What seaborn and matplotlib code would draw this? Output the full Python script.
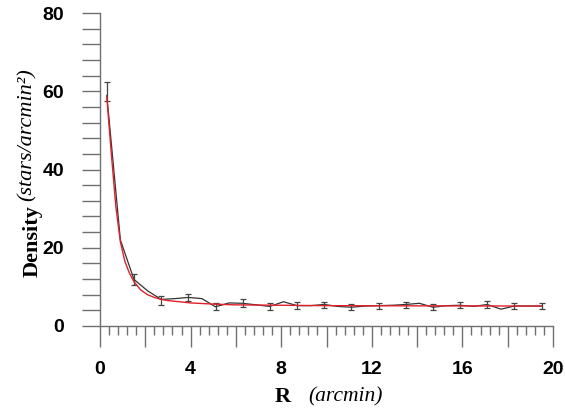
import numpy as np
import pandas as pd
import matplotlib
matplotlib.use("Agg")
import matplotlib.pyplot as plt
from matplotlib.ticker import MultipleLocator
import seaborn as sns

# observed radial density profile
r_obs = [0.3, 0.9, 1.5, 2.1, 2.7, 3.3, 3.9, 4.5, 5.1, 5.7, 6.3, 6.9, 7.5, 8.1,
         8.7, 9.3, 9.9, 10.5, 11.1, 11.7, 12.3, 12.9, 13.5, 14.1, 14.7, 15.3,
         15.9, 16.5, 17.1, 17.7, 18.3, 18.9, 19.5]
dens_obs = [59.0, 22.0, 11.9, 9.0, 6.8, 7.0, 7.3, 7.0, 4.9, 5.9, 5.8, 5.4, 5.0,
            6.2, 5.2, 5.2, 5.5, 5.0, 4.8, 5.1, 5.2, 5.3, 5.5, 5.8, 4.8, 5.2,
            5.3, 5.0, 5.5, 4.3, 5.1, 5.1, 5.1]

# points with error bars
r_err = [0.3, 1.5, 2.7, 3.9, 5.1, 6.3, 7.5, 8.7, 9.9, 11.1, 12.3, 13.5, 14.7,
         15.9, 17.1, 18.3, 19.5]
dens_err_c = [60.0, 12.0, 6.5, 7.3, 4.9, 5.8, 4.9, 5.2, 5.4, 4.8, 5.2, 5.4, 4.8,
              5.3, 5.5, 5.1, 5.1]
dens_err = [2.4, 1.4, 1.1, 1.0, 0.9, 1.0, 0.9, 0.9, 0.8, 0.8, 0.8, 0.8, 0.8,
            0.8, 0.8, 0.8, 0.8]

# fitted profile (red)
r_fit = [0.3, 0.5, 0.7, 0.9, 1.1, 1.3, 1.5, 1.8, 2.1, 2.4, 2.7, 3.0, 3.5, 4.0,
         5.0, 6.0, 8.0, 10.0, 14.0, 19.5]
dens_fit = [58.5, 44.0, 30.5, 21.5, 16.5, 13.5, 11.3, 9.2, 8.0, 7.3, 6.8, 6.5,
            6.2, 5.9, 5.6, 5.4, 5.3, 5.2, 5.15, 5.1]

x_ticks = [0, 4, 8, 12, 16, 20]
y_ticks = [0, 20, 40, 60, 80]

sns.set_style("white")
plt.rcParams["font.family"] = ["Liberation Sans", "DejaVu Sans"]

fig = plt.figure(figsize=(5.65, 4.12), dpi=100)
ax = fig.add_axes([100 / 565, 1 - 326 / 412, 453 / 565, 313 / 412])

df_obs = pd.DataFrame({"R": r_obs, "D": dens_obs})
df_fit = pd.DataFrame({"R": r_fit, "D": dens_fit})

sns.lineplot(data=df_obs, x="R", y="D", ax=ax, color="#333333", lw=0.9,
             sort=False, estimator=None)
ax.errorbar(r_err, dens_err_c, yerr=dens_err, fmt="none", ecolor="#444444",
            elinewidth=0.9, capsize=2.5, capthick=0.9)
sns.lineplot(data=df_fit, x="R", y="D", ax=ax, color="#e0202a", lw=1.0,
             sort=False, estimator=None)

ax.set_xlim(0, 20)
ax.set_ylim(0, 80)
ax.set_yticks(y_ticks)
ax.xaxis.set_minor_locator(MultipleLocator(0.4))
ax.yaxis.set_minor_locator(MultipleLocator(4))

gray = "#707070"
for s in ["top", "right"]:
    ax.spines[s].set_visible(False)
for s in ["left", "bottom"]:
    ax.spines[s].set_color(gray)
    ax.spines[s].set_linewidth(1.0)

# major x ticks every 2 (long), labels every 4
ax.set_xticks(np.arange(0, 21, 2))
ax.set_xticklabels([str(v) if v in x_ticks else "" for v in range(0, 21, 2)])
ax.tick_params(axis="both", which="both", bottom=True, left=True, top=False,
               right=False)
ax.tick_params(axis="x", which="major", direction="out", length=15, width=1,
               color=gray, pad=10, labelsize=14, labelcolor="black")
ax.tick_params(axis="x", which="minor", direction="out", length=6.5, width=1,
               color=gray)
ax.tick_params(axis="y", which="major", direction="out", length=13, width=1,
               color=gray, pad=13, labelsize=14, labelcolor="black")
ax.tick_params(axis="y", which="minor", direction="out", length=13, width=1,
               color=gray)
for lab in ax.get_xticklabels() + ax.get_yticklabels():
    lab.set_fontweight("bold")

ax.set_xlabel("")
ax.set_ylabel("")

# axis labels
fig.text(33 / 565, 1 - 277 / 412, "Density", rotation=90, ha="center",
         va="bottom", fontsize=16, fontweight="bold", family="Liberation Serif",
         color="black")
fig.text(27 / 565, 1 - 201 / 412, "(stars/arcmin\u00b2)", rotation=90,
         ha="center", va="bottom", fontsize=16, style="italic",
         family="Liberation Serif", color="black")
fig.text(283 / 565, 1 - 397 / 412, "R", ha="center", va="center", fontsize=16,
         fontweight="bold", family="Liberation Serif", color="black")
fig.text(308 / 565, 1 - 397 / 412, "(arcmin)", ha="left", va="center",
         fontsize=15.5, style="italic", family="Liberation Serif",
         color="black")

fig.savefig("out.png", dpi=100)
